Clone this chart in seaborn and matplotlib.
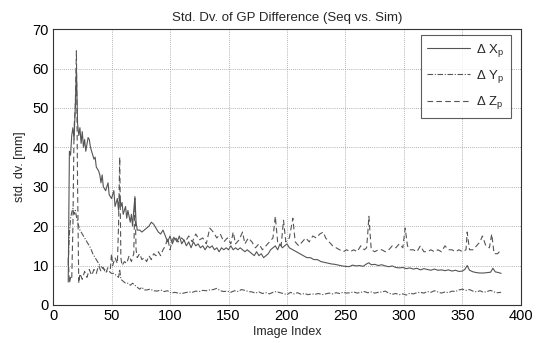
import numpy as np
import pandas as pd
import matplotlib
matplotlib.use("Agg")
import matplotlib.pyplot as plt
import seaborn as sns

# Per-image standard deviation of ground-point differences [mm]
x_idx = [13, 14, 15, 16, 17, 18, 19, 20, 21, 22, 23, 24, 25, 26, 27, 28, 30, 31, 32, 34,
         35, 36, 37, 39, 40, 41, 42, 43, 45, 47, 48, 50, 52, 53, 55, 56, 57, 58, 59, 60,
         62, 63, 64, 66, 67, 68, 69, 70, 71, 72, 74, 76, 78, 80, 82, 84, 86, 88, 90, 92,
         94, 96, 98, 100, 102, 104, 106, 108, 110, 112, 114, 116, 118, 120, 122, 124, 126, 128, 130, 132,
         134, 136, 138, 140, 142, 144, 146, 148, 150, 152, 154, 156, 158, 160, 162, 164, 166, 168, 170, 172,
         174, 176, 178, 180, 182, 184, 186, 188, 190, 192, 194, 196, 198, 200, 202, 205, 208, 211, 214, 217,
         220, 223, 226, 229, 232, 235, 238, 241, 244, 247, 250, 253, 256, 259, 262, 265, 268, 270, 272, 275,
         278, 281, 284, 287, 290, 293, 296, 299, 302, 305, 308, 311, 314, 317, 320, 323, 326, 329, 332, 335,
         338, 341, 344, 347, 350, 352, 354, 356, 359, 362, 365, 368, 371, 374, 376, 378, 381, 383]
x_val = [5.8, 39, 38, 43, 45, 42, 50, 60, 46, 43, 45, 41, 44, 40, 42, 39, 42.5, 42, 40, 38,
         37, 37.5, 35, 34, 33, 31, 33, 30, 29, 31, 28, 27, 29, 25, 27, 24, 28, 25, 26, 23,
         25, 22, 24, 21, 23, 20, 24, 27.5, 21, 19, 19, 18.5, 19, 19.5, 20, 21, 20.5, 19.5, 18.5, 18,
         19, 17.5, 16, 17.5, 15.5, 17, 16, 17.5, 15.5, 16.5, 15, 16, 14.5, 16, 15, 15.5, 14.5, 15, 14, 15,
         14.5, 15, 14, 14.5, 13.5, 14.5, 14, 14.5, 14, 15, 14, 14.5, 14, 14.5, 14, 13.5, 14, 13.5, 13, 12.5,
         13.5, 12.5, 13, 12, 12.5, 13, 14, 14.5, 15, 14, 15.5, 14.5, 15, 15.5, 14.5, 14, 13.5, 13, 12.5, 12,
         12, 11.5, 11.5, 11, 10.8, 10.6, 10.4, 10.3, 10.1, 9.9, 9.8, 9.7, 10.1, 9.9, 10.0, 9.8, 10.4, 10.7, 10.2, 10.3,
         10.0, 10.2, 9.9, 9.7, 9.9, 9.5, 9.4, 9.5, 9.2, 9.4, 9.1, 9.3, 8.9, 9.2, 9.0, 8.8, 9.1, 8.8, 8.9, 8.7,
         8.9, 8.6, 8.8, 8.5, 8.6, 9.0, 10.0, 8.8, 8.4, 8.2, 8.1, 8.1, 8.2, 8.3, 9.3, 8.4, 8.2, 8.0]

y_idx = [13, 14, 15, 16, 17, 18, 19, 20, 21, 22, 23, 24, 26, 28, 30, 32, 34, 36, 38, 40,
         42, 44, 46, 48, 50, 52, 54, 56, 57, 58, 60, 62, 64, 66, 68, 70, 72, 74, 76, 78,
         80, 83, 86, 89, 92, 95, 98, 101, 104, 107, 110, 113, 116, 119, 122, 125, 128, 131, 134, 137,
         140, 143, 146, 149, 152, 155, 158, 161, 164, 167, 170, 173, 176, 179, 182, 185, 188, 191, 194, 197,
         200, 203, 206, 209, 212, 215, 218, 221, 224, 227, 230, 233, 236, 239, 242, 245, 248, 251, 254, 257,
         260, 263, 266, 269, 272, 275, 278, 281, 284, 287, 290, 293, 296, 299, 302, 305, 308, 311, 314, 317,
         320, 323, 326, 329, 332, 335, 338, 341, 344, 347, 350, 353, 356, 359, 362, 365, 368, 371, 374, 377,
         380, 383]
y_val = [10, 18, 22, 23.5, 24.5, 23, 24, 22.5, 21, 20, 19, 18.5, 17.5, 16.5, 15.5, 14.5, 13, 12, 11, 10,
         9.5, 9, 8.5, 8.5, 8, 8, 7.5, 7, 9, 6.5, 6, 5.5, 5.5, 5, 5.5, 5, 4.5, 4, 4.5, 3.8,
         3.8, 4, 3.6, 3.5, 3.8, 3.4, 3.6, 3.0, 3.2, 3.0, 2.9, 3.1, 3.3, 3.2, 3.5, 3.4, 3.7, 3.6, 3.8, 3.9,
         4.2, 3.6, 3.4, 3.5, 3.2, 3.6, 3.4, 3.9, 3.7, 3.4, 3.3, 3.0, 3.3, 2.9, 3.1, 2.8, 3.2, 3.4, 3.1, 2.9,
         2.6, 3.2, 2.8, 3.1, 2.7, 2.9, 2.6, 2.8, 2.7, 2.9, 2.6, 2.8, 3.0, 2.8, 3.1, 2.9, 3.2, 3.0, 3.1, 3.3,
         3.0, 3.2, 3.4, 3.1, 3.3, 3.0, 3.2, 3.3, 3.5, 3.0, 2.7, 2.9, 2.6, 2.8, 2.5, 3.0, 2.8, 3.1, 3.2, 3.0,
         3.4, 3.2, 3.6, 3.3, 3.0, 3.3, 3.1, 3.5, 3.4, 3.8, 4.0, 3.7, 3.9, 3.5, 3.3, 3.6, 3.2, 3.4, 3.7, 3.3,
         3.1, 3.2]

z_idx = [13, 14, 15, 16, 17, 18, 19, 20, 21, 22, 23, 25, 27, 29, 31, 33, 35, 37, 39, 41,
         43, 45, 47, 49, 50, 51, 53, 55, 56, 57, 58, 59, 61, 63, 65, 67, 69, 70, 71, 72,
         74, 76, 78, 80, 82, 84, 86, 88, 90, 92, 94, 96, 98, 100, 102, 104, 107, 110, 113, 116,
         119, 122, 125, 128, 131, 134, 137, 140, 143, 146, 149, 152, 154, 156, 159, 162, 164, 167, 170, 173,
         176, 179, 182, 185, 188, 190, 192, 195, 197, 199, 202, 205, 207, 210, 213, 216, 219, 222, 225, 228,
         231, 233, 236, 239, 242, 245, 248, 251, 254, 257, 260, 263, 266, 268, 269, 270, 272, 275, 278, 281,
         284, 287, 290, 293, 296, 299, 301, 303, 305, 308, 311, 314, 317, 320, 323, 326, 329, 332, 335, 338,
         341, 344, 347, 350, 353, 354, 356, 359, 362, 365, 367, 370, 373, 375, 377, 380, 383]
z_val = [12, 5.5, 7, 6.5, 20, 45, 50, 64.5, 30, 5.5, 8, 6.5, 8.5, 7, 9, 7.5, 9, 8, 10, 8.5,
         9.5, 8, 9.5, 9, 13, 10, 12, 10.5, 20, 37.5, 12, 10, 11, 10.5, 12.5, 11, 13, 27, 14, 12,
         13, 11.5, 12, 11, 12.5, 11.5, 13, 12.5, 13.5, 12.5, 14, 15, 17, 14, 16.5, 17.5, 16, 17, 16, 17.5,
         16, 18, 16.5, 17, 15.5, 19.5, 18.5, 17, 18, 16, 17, 15.5, 18.5, 15.5, 16.5, 18.5, 15.5, 17, 16, 14.5,
         15.5, 14, 15, 16, 17, 22.5, 16, 15, 21.5, 16, 17, 22, 16, 15, 16, 17, 16, 17.5, 17, 18,
         18.5, 17, 16, 15, 14.5, 14, 13.5, 14, 13.5, 14, 13.5, 15, 14, 14.5, 18, 22.5, 14, 13.5, 14, 14,
         13.5, 14, 15, 14.5, 15.5, 14.5, 19.5, 15, 14, 14, 13.5, 15, 13.5, 13.5, 14, 13.5, 14, 13.5, 15, 14,
         14, 13.5, 14, 13.5, 14, 18.5, 14, 14, 15, 16, 17.5, 15, 14.5, 18, 13, 13, 14]

labels = [r"$\Delta\ \mathrm{X}_\mathrm{p}$", r"$\Delta\ \mathrm{Y}_\mathrm{p}$", r"$\Delta\ \mathrm{Z}_\mathrm{p}$"]
x_ticks = [0, 50, 100, 150, 200, 250, 300, 350, 400]
y_ticks = [0, 10, 20, 30, 40, 50, 60, 70]

sns.set_theme(style="white")
plt.rcParams["font.family"] = ["Liberation Sans", "DejaVu Sans"]
plt.rcParams["mathtext.fontset"] = "custom"
plt.rcParams["mathtext.rm"] = "Liberation Sans"
plt.rcParams["mathtext.it"] = "Liberation Sans:italic"

fig = plt.figure(figsize=(5.41, 3.43), dpi=100)
ax = fig.add_axes([0.098, 0.111, 0.865, 0.804])

line_color = "#555555"
series = [
    (x_idx, x_val, labels[0], "-"),
    (y_idx, y_val, labels[1], (0, (5, 1.5, 1, 1.5))),
    (z_idx, z_val, labels[2], (0, (5, 3))),
]
for idx, val, lab, ls in series:
    df = pd.DataFrame({"Image Index": idx, "std": val})
    sns.lineplot(data=df, x="Image Index", y="std", ax=ax, color=line_color,
                 linewidth=0.8, linestyle=ls, label=lab, estimator=None, sort=False)

ax.set_xlim(0, 400)
ax.set_ylim(0, 70)
ax.set_xticks(x_ticks)
ax.set_yticks(y_ticks)
ax.tick_params(direction="in", length=3, labelsize=10.5, colors="black", pad=3)
ax.grid(True, linestyle=(0, (1, 1.5)), color="#9a9a9a", linewidth=0.6)
for s in ax.spines.values():
    s.set_color("#333333")
    s.set_linewidth(0.8)

ax.set_title("Std. Dv. of GP Difference (Seq vs. Sim)", fontsize=9.5, pad=6)
ax.set_xlabel("Image Index", fontsize=9, labelpad=2)
ax.set_ylabel("std. dv. [mm]", fontsize=9, labelpad=5)

leg = ax.legend(loc="upper right", bbox_to_anchor=(0.979, 0.978), borderaxespad=0,
                fontsize=9.5, handlelength=3.2, labelspacing=0.7, handletextpad=0.5,
                frameon=True, fancybox=False, borderpad=0.5)
leg.get_frame().set_edgecolor("#333333")
leg.get_frame().set_linewidth(0.8)

fig.savefig("out.png", dpi=100)
